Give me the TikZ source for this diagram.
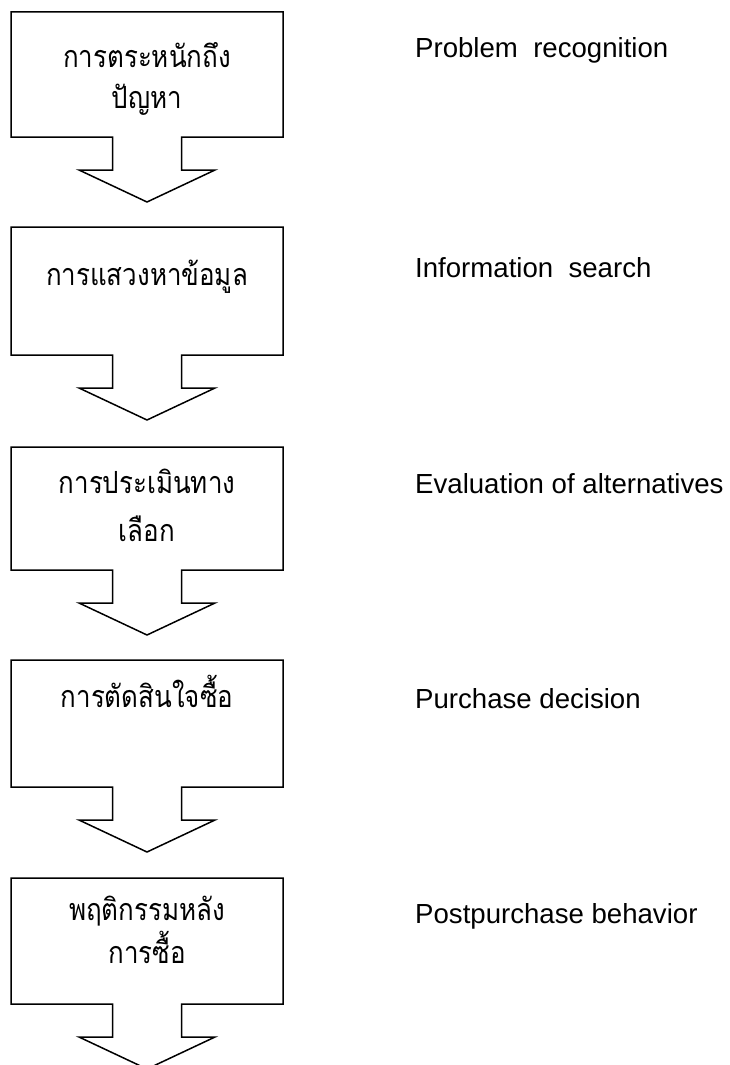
\documentclass[tikz,border=0pt]{standalone}
\usepackage{fontspec}
\setmainfont{Liberation Sans}
\newfontfamily\thaifont[Script=Thai,FakeStretch=0.85]{Loma}
\usetikzlibrary{calc}

\begin{document}
\begin{tikzpicture}[x=1pt,y=-1pt,
  stage/.style={minimum width=272pt, inner sep=0pt, outer sep=0pt,
                anchor=north west, draw=none},
  outline/.style={line width=1.5pt, line join=miter},
  thai/.style={anchor=base, inner sep=0pt, font=\thaifont\fontsize{30.5}{33}\selectfont},
  eng/.style={anchor=base west, inner sep=0pt, font=\fontsize{27.6}{30}\selectfont}]
\useasboundingbox (0,0) rectangle (729,1065);
\clip (0,0) rectangle (729,1065);

% process stages: frame of each box with its downward block arrow
\node[stage, minimum height=125pt] (s1) at (11,12)  {};
\node[stage, minimum height=128pt] (s2) at (11,227) {};
\node[stage, minimum height=123pt] (s3) at (11,447) {};
\node[stage, minimum height=127pt] (s4) at (11,660) {};
\node[stage, minimum height=126pt] (s5) at (11,878) {};

\foreach \s in {s1,s2,s3,s4,s5}{
  \draw[outline] (\s.north west) -- (\s.north east) -- (\s.south east)
    -- ($(\s.south)+(34.5,0)$) -- ($(\s.south)+(34.5,33)$)
    -- ($(\s.south)+(68,33)$) -- ($(\s.south)+(0,65)$)
    -- ($(\s.south)+(-68,33)$) -- ($(\s.south)+(-34.5,33)$)
    -- ($(\s.south)+(-34.5,0)$) -- (\s.south west) -- cycle;
}

% Thai stage names
\node[thai] (t1a) at (147,67)  {การตระหนักถึง};
\node[thai] (t1b) at (147,108) {ปัญหา};
\node[thai] (t2a) at (147,285) {การแสวงหาข้อมูล};
\node[thai] (t3a) at (147,493) {การประเมินทาง};
\node[thai] (t3b) at (147,541) {เลือก};
\node[thai] (t4a) at (147,707) {การตัดสินใจซื้อ};
\node[thai] (t5a) at (147,920) {พฤติกรรมหลัง};
\node[thai] (t5b) at (147,963) {การซื้อ};

% English stage names
\node[eng] (e1) at (415,58)  {Problem~~recognition};
\node[eng] (e2) at (415,277) {Information~~search};
\node[eng] (e3) at (415,493) {Evaluation of alternatives};
\node[eng] (e4) at (415,708) {Purchase decision};
\node[eng] (e5) at (415,923) {Postpurchase behavior};
\end{tikzpicture}
\end{document}
